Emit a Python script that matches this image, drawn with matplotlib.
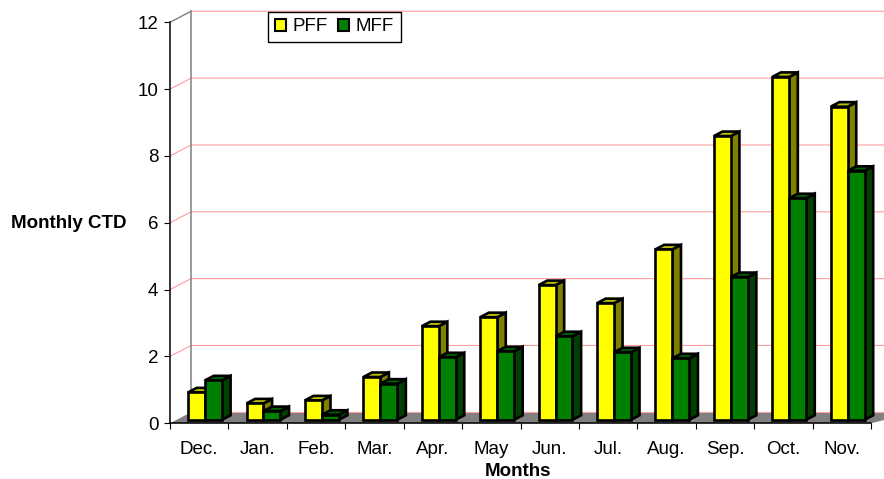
import matplotlib
matplotlib.use('Agg')
import matplotlib.pyplot as plt
from matplotlib.patches import Patch, Polygon

plt.rcParams['font.family'] = ['Liberation Sans', 'DejaVu Sans']

months = ['Dec.', 'Jan.', 'Feb.', 'Mar.', 'Apr.', 'May', 'Jun.', 'Jul.', 'Aug.', 'Sep.', 'Oct.', 'Nov.']
pff = [0.82, 0.49, 0.58, 1.28, 2.80, 3.07, 4.03, 3.49, 5.10, 8.49, 10.26, 9.37]
mff = [1.18, 0.26, 0.15, 1.08, 1.87, 2.05, 2.50, 2.02, 1.84, 4.27, 6.63, 7.45]
yticks = [0, 2, 4, 6, 8, 10, 12]

W, H = 884, 479
# oblique projection of the fake 3d box
DX = 21 / 58.4
DY = 11 / 33.4
BAR_W = 0.29
GAP = 0.195
D0, D1 = 0.32, 0.73


def proj(x, y, d):
    return (x + d * DX, y + d * DY)


fig = plt.figure(figsize=(W / 100, H / 100), dpi=100, facecolor='white')
ax = fig.add_axes([170 / W, 1 - 423.3 / H, 701 / W, 401 / H])
ax.set_xlim(0, 12)
ax.set_ylim(0, 12)
ax.patch.set_visible(False)

# floor and walls
ax.add_patch(Polygon([proj(0, 0, 0), proj(0, 0, 1), proj(12.4, 0, 1), proj(12, 0, 0)],
                     closed=True, fc='#808080', ec='none', clip_on=False, zorder=1))
for v in yticks:
    a = proj(0, v, 0)
    b = proj(0, v, 1)
    c = proj(12.4, v, 1)
    if v == 0:
        ax.plot([b[0], c[0]], [b[1], c[1]], color='#ff9c9c', lw=0.8, clip_on=False, zorder=2)
    else:
        ax.plot([a[0], b[0], c[0]], [a[1], b[1], c[1]], color='#ff9c9c', lw=0.8, clip_on=False, zorder=2)
ax.plot(*zip(proj(0, 0, 1), proj(0, 12, 1)), color='#808080', lw=1.1, clip_on=False, zorder=2)
ax.plot(*zip(proj(0, 12, 0), proj(0, 12, 1)), color='#808080', lw=0.9, clip_on=False, zorder=2)


def bar3d(x, val, front, top, side, z):
    fl = [proj(x, 0, D0), proj(x + BAR_W, 0, D0), proj(x + BAR_W, val, D0), proj(x, val, D0)]
    tp = [proj(x, val, D0), proj(x + BAR_W, val, D0), proj(x + BAR_W, val, D1), proj(x, val, D1)]
    sd = [proj(x + BAR_W, 0, D0), proj(x + BAR_W, 0, D1), proj(x + BAR_W, val, D1), proj(x + BAR_W, val, D0)]
    for pts, col in ((sd, side), (tp, top), (fl, front)):
        ax.add_patch(Polygon(pts, closed=True, fc=col, ec='black', lw=1.9,
                             joinstyle='miter', clip_on=False, zorder=z))


for i in range(len(months)):
    bar3d(i + GAP, pff[i], '#ffff00', '#bfbf00', '#808000', 3 + i * 2)
    bar3d(i + GAP + BAR_W, mff[i], '#008000', '#006000', '#004000', 4 + i * 2)

# axes
for s in ['top', 'right']:
    ax.spines[s].set_visible(False)
for s in ['left', 'bottom']:
    ax.spines[s].set_linewidth(1.1)
    ax.spines[s].set_zorder(40)
ax.set_yticks(yticks)
ax.set_xticks(range(13))
ax.set_xticklabels([])
ax.set_xticks([i + 0.5 for i in range(12)], minor=True)
ax.set_xticklabels(months, minor=True)
ax.tick_params(axis='x', which='minor', length=0, labelsize=13.5, pad=13)
ax.tick_params(axis='x', which='major', length=4.3, width=0.8)
ax.tick_params(axis='y', length=4.3, width=0.8, labelsize=13.5, pad=4)

ax.set_xlabel('Months', fontweight='bold', fontsize=13.5, labelpad=5)
ax.xaxis.set_label_coords(518.5 / 701 - 170 / 701, (423.3 - 471.5) / 401, transform=ax.transAxes)
ax.xaxis.label.set_verticalalignment('center')
ax.set_ylabel('Monthly CTD', fontweight='bold', fontsize=13.5, rotation=0, ha='center', va='center')
ax.yaxis.set_label_coords((68.5 - 170) / 701, (423.3 - 224) / 401, transform=ax.transAxes)

handles = [Patch(fc='#ffff00', ec='black', lw=1.5, label='PFF'),
           Patch(fc='#008000', ec='black', lw=1.5, label='MFF')]
leg = ax.legend(handles=handles, ncol=2, loc='upper left',
                bbox_to_anchor=(268 / W, 1 - 11.5 / H), bbox_transform=fig.transFigure,
                fontsize=13.5, frameon=True, fancybox=False, framealpha=1, edgecolor='black',
                borderaxespad=0, borderpad=0.36, handlelength=0.6, handleheight=0.6,
                handletextpad=0.35, columnspacing=0.55, labelspacing=0)
leg.get_frame().set_linewidth(1.0)
leg.set_zorder(50)

fig.savefig('out.png', dpi=100)
